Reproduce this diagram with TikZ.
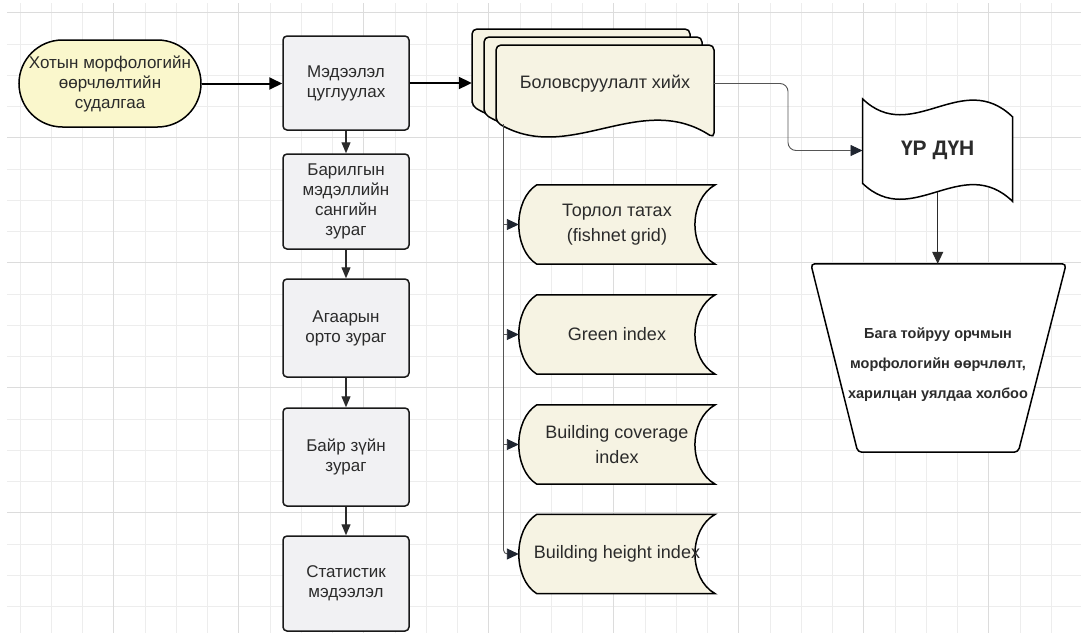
\documentclass[tikz,border=0pt]{standalone}
\usepackage{fontspec}
\setmainfont{Liberation Sans}
\usetikzlibrary{arrows.meta,calc}
\pgfdeclarelayer{bg}
\pgfsetlayers{bg,main}
\definecolor{cGridMinor}{HTML}{EDEDED}
\definecolor{cGridMajor}{HTML}{DCDCDC}
\definecolor{cBox}{HTML}{F1F1F3}
\definecolor{cTerm}{HTML}{FAF7CC}
\definecolor{cDoc}{HTML}{F6F3E3}
\definecolor{cTxt}{HTML}{2B2B2B}
\definecolor{cGray}{HTML}{555555}
\definecolor{cTip}{HTML}{1F2530}
\tikzset{
  gminor/.style={draw=cGridMinor, line width=0.9pt},
  gmajor/.style={draw=cGridMajor, line width=1.1pt},
  termbox/.style={draw=black, fill=cTerm, line width=1.5pt, rounded corners=43.5pt,
    minimum width=182pt, minimum height=87pt, inner sep=0pt, align=center,
    text=cTxt, font=\fontsize{17}{20}\selectfont},
  procbox/.style={draw=black!90, fill=cBox, line width=1.5pt, rounded corners=4pt,
    minimum width=126pt, inner sep=0pt, align=center, text=cTxt,
    font=\fontsize{17}{20}\selectfont},
  storbox/.style={minimum width=196pt, minimum height=79pt, inner sep=0pt, align=center,
    text=cTxt, font=\fontsize{18}{25}\selectfont},
  shapeline/.style={draw=black, line width=1.5pt, fill=cDoc},
  mainarrow/.style={draw=black, line width=2pt, -{Triangle[length=13pt,width=12pt]}},
  chainarrow/.style={draw=cTxt, line width=1.2pt, -{Triangle[length=11pt,width=9pt]}},
  treearrow/.style={draw=cGray, line width=0.9pt, -{Triangle[length=12pt,width=11pt,color=cTip]}},
  treeline/.style={draw=cGray, line width=0.9pt},
  pics/doclayer/.style={code={
    \draw[shapeline, rounded corners=5pt] (0,77) -- (0,0) -- (218,0) -- (218,93)
      .. controls (144,45) and (74,120) .. (0,77) -- cycle;}}
}
\begin{document}
\begin{tikzpicture}[x=1pt,y=-1pt]
\useasboundingbox (0,0) rectangle (1081,633);
\begin{pgfonlayer}{bg}
\fill[white] (0,0) rectangle (1081,633);
\foreach \k in {0,...,33} {\draw[gminor] ({20+31.25*\k},3) -- ({20+31.25*\k},633);}
\foreach \k in {0,...,19} {\draw[gminor] (7,{12.7+31.25*\k}) -- (1081,{12.7+31.25*\k});}
\foreach \k in {0,...,7} {\draw[gmajor] ({113.75+125*\k},3) -- ({113.75+125*\k},633);}
\foreach \k in {0,...,4} {\draw[gmajor] (7,{12.7+125*\k}) -- (1081,{12.7+125*\k});}
\end{pgfonlayer}

% start terminator
\node[termbox] (start) at (110,83.5) {Хотын морфологийн\\өөрчлөлтийн\\судалгаа};

% data boxes
\node[procbox, minimum height=94pt] (b1) at (346,83) {Мэдээлэл\\цуглуулах};
\node[procbox, minimum height=95pt] (b2) at (346,201.5) {Барилгын\\мэдэллийн\\сангийн\\зураг};
\node[procbox, minimum height=98pt] (b3) at (346,328) {Агаарын\\орто зураг};
\node[procbox, minimum height=98pt] (b4) at (346,457) {Байр зүйн\\зураг};
\node[procbox, minimum height=95pt] (b5) at (346,583.5) {Статистик\\мэдээлэл};

% multi-document
\node[minimum width=218pt, minimum height=20pt, inner sep=0pt] (procback) at (581,83) {};
\node[minimum width=218pt, minimum height=20pt, inner sep=0pt, text=cTxt,
  font=\fontsize{18}{22}\selectfont] (proc) at (605,83.5) {Боловсруулалт хийх};

% storage shapes
\node[storbox] (s1) at (617,224.5) {Торлол татах\\(fishnet grid)};
\node[storbox] (s2) at (617,334.5) {Green index};
\node[storbox] (s3) at (617,444.5) {Building coverage\\index};
\node[storbox] (s4) at (617,554) {Building height index};

% result tape
\node[minimum width=150pt, minimum height=83pt, inner sep=0pt, text=cTxt,
  font=\bfseries\fontsize{21}{25}\selectfont] (res) at (937.7,150.5) {ҮР ДҮН};

% trapezoid
\node[minimum width=255pt, minimum height=188pt, inner sep=0pt] (trap) at (938.5,358) {};
\node[align=center, inner sep=0pt, text=cTxt, font=\bfseries\fontsize{14.5}{30}\selectfont]
  (traptext) at (938,365) {Бага тойруу орчмын\\морфологийн өөрчлөлт,\\харилцан уялдаа холбоо};

\begin{pgfonlayer}{bg}
\pic at (472,29) {doclayer};
\pic at (484,37) {doclayer};
\pic at (496,45) {doclayer};
\foreach \s in {s1,s2,s3,s4} {
  \draw[shapeline] ($(\s.north west)+(18,0)$) -- (\s.north east)
    .. controls ($(\s.north east)+(-27,15)$) and ($(\s.south east)+(-27,-15)$) .. (\s.south east)
    -- ($(\s.south west)+(18,0)$)
    .. controls ($(\s.south west)+(-6,-15)$) and ($(\s.north west)+(-6,15)$) .. ($(\s.north west)+(18,0)$)
    -- cycle;
}
\draw[draw=black, line width=1.5pt, fill=white, rounded corners=4pt]
  (trap.north west) -- (trap.north east) -- ($(trap.south east)+(-48,0)$)
  -- ($(trap.south west)+(47,0)$) -- cycle;
\begin{scope}[shift={(res.center)}]
\draw[draw=black, line width=1.5pt, fill=white]
  (-75,-51.5) .. controls (-25.7,-4.5) and (24.3,-82.5) .. (75,-33.5)
  -- (75,51) .. controls (24.3,2) and (-25.7,80) .. (-75,33) -- cycle;
\end{scope}
\end{pgfonlayer}

% connectors
\draw[mainarrow] (start.east) -- (start.east -| b1.west);
\draw[mainarrow] (b1.east) -- (procback.west);
\draw[chainarrow] (b1.south) -- (b2.north);
\draw[chainarrow] (b2.south) -- (b3.north);
\draw[chainarrow] (b3.south) -- (b4.north);
\draw[chainarrow] (b4.south) -- (b5.north);

\coordinate (bend) at (788,0);
\draw[treearrow, rounded corners=8pt] (proc.east) -- (proc.east -| bend) |- (res.west);
\draw[draw=cTxt, line width=1pt, -{Triangle[length=12pt,width=11pt]}] (res.south) -- (res.south |- trap.north);

\coordinate (trunk) at (503.5,124);
\draw[treearrow, rounded corners=4pt] (trunk) |- (s4.west);
\draw[treearrow] (trunk |- s1.west) -- (s1.west);
\draw[treearrow] (trunk |- s2.west) -- (s2.west);
\draw[treearrow] (trunk |- s3.west) -- (s3.west);
\end{tikzpicture}
\end{document}
